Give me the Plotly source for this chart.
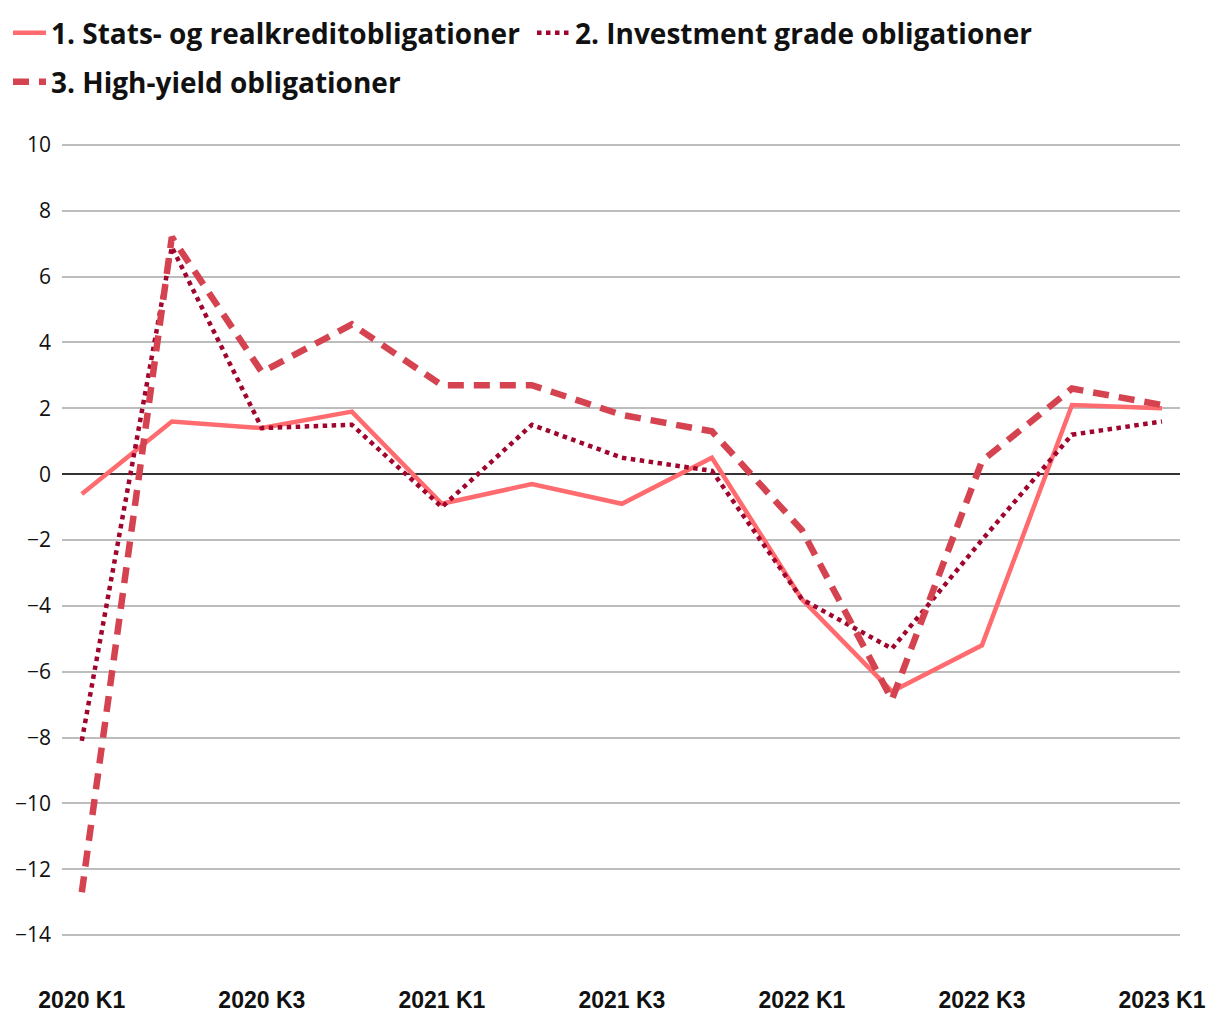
import plotly.graph_objects as go

quarters = ["2020 K1", "2020 K2", "2020 K3", "2020 K4",
            "2021 K1", "2021 K2", "2021 K3", "2021 K4",
            "2022 K1", "2022 K2", "2022 K3", "2022 K4", "2023 K1"]
tick_labels = ["2020 K1", "2020 K3", "2021 K1", "2021 K3", "2022 K1", "2022 K3", "2023 K1"]
y_ticks = [-14, -12, -10, -8, -6, -4, -2, 0, 2, 4, 6, 8, 10]

stats_real = [-0.6, 1.6, 1.4, 1.9, -0.9, -0.3, -0.9, 0.5, -3.8, -6.6, -5.2, 2.1, 2.0]
invest_grade = [-8.1, 6.9, 1.4, 1.5, -1.0, 1.5, 0.5, 0.1, -3.8, -5.3, -2.0, 1.2, 1.6]
high_yield = [-12.7, 7.2, 3.1, 4.55, 2.7, 2.7, 1.8, 1.3, -1.7, -6.85, 0.4, 2.6, 2.1]

names = ["1. Stats- og realkreditobligationer",
         "2. Investment grade obligationer",
         "3. High-yield obligationer"]

fig = go.Figure()
fig.add_trace(go.Scatter(x=quarters, y=stats_real, name=names[0], mode="lines",
                         line=dict(color="#ff6b6e", width=4.5), legend="legend"))
fig.add_trace(go.Scatter(x=quarters, y=invest_grade, name=names[1], mode="lines",
                         line=dict(color="#a0052d", width=4.5, dash="dot"), legend="legend2"))
fig.add_trace(go.Scatter(x=quarters, y=high_yield, name=names[2], mode="lines",
                         line=dict(color="#d4434f", width=6.5, dash="16px,10px"), legend="legend3"))

leg_font = dict(family="Open Sans", size=28, color="#111", weight="bold")
leg_common = dict(xref="container", yref="container", xanchor="left", yanchor="middle",
                  font=leg_font, itemwidth=33, bgcolor="rgba(0,0,0,0)", borderwidth=0,
                  orientation="h")
W, H = 1212, 1012

fig.update_layout(
    width=W, height=H,
    paper_bgcolor="white", plot_bgcolor="white",
    margin=dict(l=54, r=40, t=135, b=83, autoexpand=False),
    font=dict(family="Open Sans", color="#111"),
    legend=dict(x=-1 / W, y=1 - 25 / H, **leg_common),
    legend2=dict(x=524 / W, y=1 - 25 / H, **leg_common),
    legend3=dict(x=-1 / W, y=1 - 74 / H, **leg_common),
    showlegend=True,
)
fig.update_xaxes(type="category", range=[-0.22, 12.2], tickvals=tick_labels, ticktext=tick_labels,
                 showgrid=False, showline=False, ticks="", zeroline=False,
                 tickfont=dict(family="Liberation Sans", size=23, color="#111", weight="bold"),
                 ticklabelstandoff=47)
fig.update_yaxes(range=[-14.06, 10.06], tickvals=y_ticks, showgrid=True,
                 gridcolor="#bdbdbd", gridwidth=1.5, zeroline=True, zerolinecolor="#333",
                 zerolinewidth=1.5, ticks="", showline=False,
                 tickfont=dict(family="Open Sans", size=21, color="#111"),
                 ticklabelstandoff=10)

fig.write_html("out.html")
